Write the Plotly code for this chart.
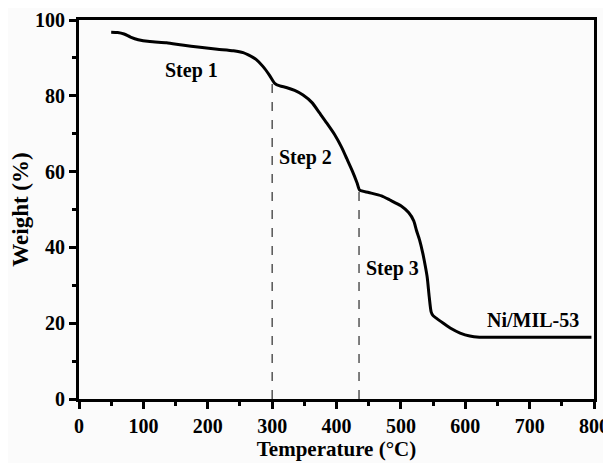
import plotly.graph_objects as go

temp = [50, 60, 70, 80, 92, 110, 136, 160, 188, 215, 240, 255, 263, 275, 286, 296, 304, 312, 322, 335, 348, 362, 374, 385, 397, 408, 416, 425, 432, 436,
        450, 470, 483, 500, 512, 520, 524, 529, 534, 538, 541, 544, 547, 550, 556, 566, 578, 592, 607, 622, 650, 700, 750, 796]
weight = [96.8, 96.7, 96.3, 95.5, 94.8, 94.3, 94.0, 93.4, 92.8, 92.3, 91.9, 91.4, 90.8, 89.6, 87.7, 85.4, 83.3, 82.6, 82.2, 81.4, 80.2, 78.2, 75.4, 72.8, 69.8, 66.4, 63.4, 60.0, 57.0, 55.1,
          54.5, 53.6, 52.5, 51.0, 49.2, 47.0, 44.6, 42.0, 38.5, 35.0, 32.0, 27.0, 23.0, 22.0, 21.2, 20.0, 18.6, 17.4, 16.6, 16.3, 16.3, 16.3, 16.3, 16.3]

div_x = [300, 435]
div_top = [83.3, 55.0]

labels = ["Step 1", "Step 2", "Step 3", "Ni/MIL-53"]
label_x = [175, 352, 487, 705]
label_y = [86.8, 63.6, 34.5, 20.8]

font_family = "Liberation Serif"

fig = go.Figure()
for xv, top in zip(div_x, div_top):
    fig.add_trace(go.Scatter(x=[xv, xv], y=[0, top], mode="lines",
                             line=dict(color="black", width=1, dash="dash"),
                             showlegend=False, hoverinfo="skip"))
fig.add_trace(go.Scatter(x=temp, y=weight, mode="lines",
                         line=dict(color="black", width=3, shape="spline", smoothing=0.6),
                         showlegend=False))

for t, xv, yv in zip(labels, label_x, label_y):
    fig.add_annotation(x=xv, y=yv, text="<b>%s</b>" % t, showarrow=False,
                       font=dict(family=font_family, size=20, color="black"))

axis_common = dict(showline=True, linecolor="black", linewidth=3, mirror=True,
                   ticks="outside", tickcolor="black", tickwidth=2.5, ticklen=7,
                   showgrid=False, zeroline=False, automargin=False,
                   ticklabeloverflow="allow",
                   tickfont=dict(family=font_family, size=20, color="black"))

fig.update_xaxes(range=[0, 800], dtick=100, tick0=0,
                 minor=dict(dtick=50, ticks="outside", ticklen=4, tickwidth=2.5, tickcolor="black"),
                 title=dict(text="<b>Temperature (°C)</b>", font=dict(family=font_family, size=21, color="black"), standoff=2),
                 tickprefix="<b>", ticksuffix="</b>",
                 **axis_common)
fig.update_yaxes(range=[0, 100], dtick=20, tick0=0,
                 minor=dict(dtick=10, ticks="outside", ticklen=4, tickwidth=2.5, tickcolor="black"),
                 title=dict(text="<b>Weight (%)</b>", font=dict(family=font_family, size=23, color="black"), standoff=6),
                 tickprefix="<b>", ticksuffix="</b>",
                 **axis_common)

fig.update_layout(width=603, height=455, margin=dict(l=71, r=17, t=12, b=64),
                  paper_bgcolor="#fbfbfb", plot_bgcolor="#fbfbfb")

fig.write_html("out.html")
